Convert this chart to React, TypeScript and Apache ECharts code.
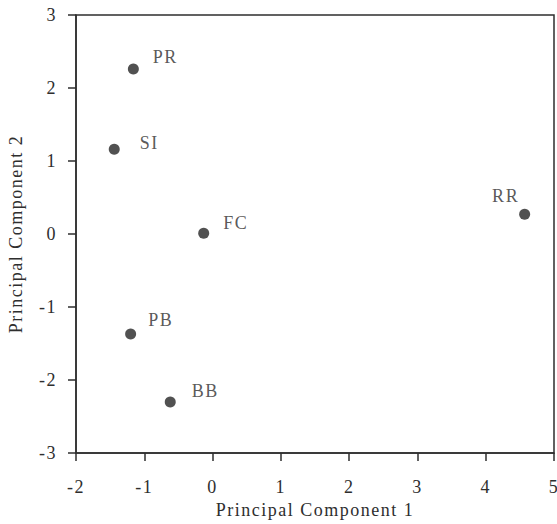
import React, { useEffect, useRef } from "react";
import * as echarts from "echarts";

const names = ["PR", "SI", "FC", "RR", "PB", "BB"];
const pc1 = [-1.16, -1.44, -0.13, 4.57, -1.2, -0.62];
const pc2 = [2.26, 1.16, 0.01, 0.27, -1.37, -2.3];
const labelPositions = ["right", "right", "right", "left", "right", "right"];
const labelOffsets: [number, number][] = [
  [9, -12],
  [15, -6],
  [9, -10],
  [5, -18],
  [7, -14],
  [11, -11],
];

const FONT = "Times New Roman, Liberation Serif, DejaVu Serif, serif";
const INK = "#2e2e2e";

export default function App() {
  const ref = useRef<HTMLDivElement>(null);
  useEffect(() => {
    if (!ref.current) return;
    const chart = echarts.init(ref.current, undefined, { renderer: "svg" });
    const axisCommon = {
      type: "value" as const,
      interval: 1,
      nameLocation: "middle" as const,
      nameTextStyle: { fontFamily: FONT, fontSize: 18, color: INK },
      axisLine: { show: true, onZero: false, lineStyle: { color: INK, width: 1.5 } },
      axisTick: { show: true, inside: false, length: 8, lineStyle: { color: INK, width: 1.5 } },
      axisLabel: { fontFamily: FONT, fontSize: 18, color: INK },
      splitLine: { show: false },
    };
    chart.setOption({
      animation: false,
      backgroundColor: "#ffffff",
      textStyle: { fontFamily: FONT },
      grid: {
        left: 76,
        right: 3,
        top: 15,
        bottom: 71,
        show: true,
        borderColor: INK,
        borderWidth: 1.5,
        outerBoundsMode: "none",
        containLabel: false,
      },
      xAxis: {
        ...axisCommon,
        min: -2,
        max: 5,
        name: "Principal Component 1",
        nameGap: 47,
        axisLabel: { ...axisCommon.axisLabel, margin: 25 },
      },
      yAxis: {
        ...axisCommon,
        min: -3,
        max: 3,
        name: "Principal Component 2",
        nameGap: 51,
        axisLabel: { ...axisCommon.axisLabel, margin: 19 },
      },
      series: [
        {
          type: "scatter",
          symbol: "circle",
          symbolSize: 11,
          itemStyle: { color: "#262626" },
          data: names.map((n, i) => ({
            name: n,
            value: [pc1[i], pc2[i]],
            label: {
              show: true,
              position: labelPositions[i],
              offset: labelOffsets[i],
              formatter: n,
              fontFamily: FONT,
              fontSize: 18,
              color: INK,
            },
          })),
        },
      ],
    });
    return () => chart.dispose();
  }, []);
  return (
    <div
      ref={ref}
      style={{
        position: "fixed",
        left: 0,
        top: 0,
        width: 557,
        height: 524,
        letterSpacing: "1.5px",
      }}
    />
  );
}
